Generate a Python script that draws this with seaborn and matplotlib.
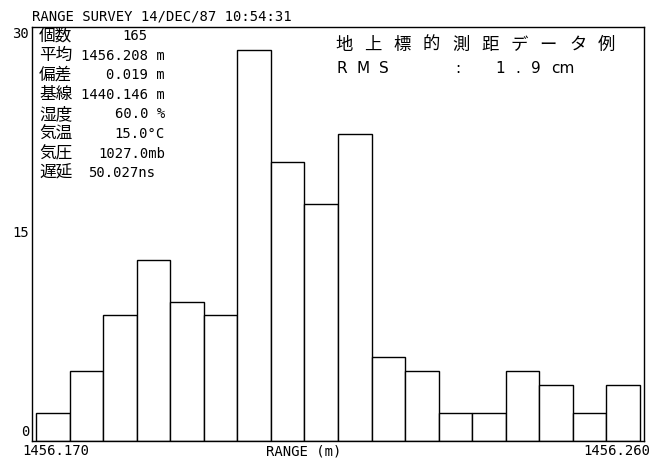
import numpy as np
import pandas as pd
import matplotlib
matplotlib.use("Agg")
import matplotlib.pyplot as plt
import seaborn as sb

# histogram data: 18 bins of 5 mm from 1456.170 to 1456.260 m
bin_edges = [round(1456.170 + 0.005 * k, 3) for k in range(19)]
counts = [2, 5, 9, 13, 10, 9, 28, 20, 17, 22, 6, 5, 2, 2, 5, 4, 2, 4]
centers = [(a + b) / 2 for a, b in zip(bin_edges[:-1], bin_edges[1:])]

header = "RANGE SURVEY 14/DEC/87 10:54:31"
info_names = ["個数", "平均", "偏差", "基線", "湿度", "気温", "気圧", "遅延"]
info_values = ["165", "1456.208 m", "0.019 m", "1440.146 m", "60.0 %", "15.0°C", "1027.0mb", "50.027ns"]
title_chars = ["地", "上", "標", "的", "測", "距", "デ", "ー", "タ", "例"]
rms_chars = ["R", "M", "S", ":", "1", ".", "9", "cm"]
y_labels = ["30", "15", "0"]
x_labels = ["1456.170", "RANGE (m)", "1456.260"]

W, H = 659, 461
sb.set_style("white")
plt.rcParams["text.color"] = "black"
MONO = "DejaVu Sans Mono"
JP = ["Noto Sans CJK JP", "DejaVu Sans"]

def fx(x):
    return x / W

def fy(y):
    return 1 - y / H

fig = plt.figure(figsize=(W / 100, H / 100), dpi=100)
ax = fig.add_axes([fx(32), fy(441), (644 - 32) / W, (441 - 27) / H])

df = pd.DataFrame({"range": centers, "n": counts})
sb.histplot(data=df, x="range", weights="n", bins=bin_edges, ax=ax,
            color="white", edgecolor="black", linewidth=1.0, alpha=1)

pad = 4 / 33.56 * 0.005
ax.set_xlim(bin_edges[0] - pad, bin_edges[-1] + pad)
ax.set_ylim(0, 414 / 13.95)
ax.set_xticks([])
ax.set_yticks([])
ax.set_xlabel("")
ax.set_ylabel("")
for s in ax.spines.values():
    s.set_color("black")
    s.set_linewidth(1.0)

# header line
fig.text(fx(32), fy(16), header, family=MONO, fontsize=10, va="center", ha="left")

# y axis labels (plotter placed)
for lab, y in zip(y_labels, [34, 233, 432]):
    fig.text(fx(29), fy(y), lab, family=MONO, fontsize=10, va="center", ha="right")

# x axis labels
fig.text(fx(56), fy(451), x_labels[0], family=MONO, fontsize=10, va="center", ha="center")
fig.text(fx(304), fy(451), x_labels[1], family=MONO, fontsize=10, va="center", ha="center")
fig.text(fx(617), fy(451), x_labels[2], family=MONO, fontsize=10, va="center", ha="center")

# info block
value_right = [147, 165, 165, 165, 165, 165, 165, 155]
for i, (name, val) in enumerate(zip(info_names, info_values)):
    y = 36 + 19.6 * i
    fig.text(fx(39), fy(y), name, family=JP, fontsize=12, va="center", ha="left")
    fig.text(fx(value_right[i]), fy(y), val, family=MONO, fontsize=10, va="center", ha="right")

# title (spaced plotter lettering)
for i, ch in enumerate(title_chars):
    fig.text(fx(344 + 29.2 * i), fy(45), ch, family=JP, fontsize=12.5,
             va="center", ha="center")

rms_x = [342, 363, 384, 458, 500, 518, 536, 563]
for ch, x in zip(rms_chars, rms_x):
    fig.text(fx(x), fy(68), ch, family="DejaVu Sans", fontsize=11,
             va="center", ha="center")

fig.savefig("out.png", dpi=100, facecolor="white")
